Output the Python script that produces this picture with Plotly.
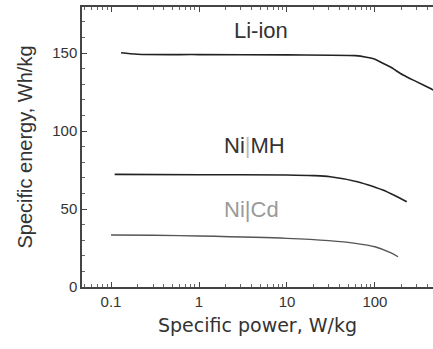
import math
import plotly.graph_objects as go

# Data
liion_x = [0.13, 0.2, 1, 10, 60, 80, 100, 123, 150, 209, 300, 422, 460]
liion_y = [150.2, 149.2, 149.0, 148.8, 148.3, 147.3, 146.0, 143.4, 141.0, 135.9, 131.5, 127.4, 126.3]

nimh_x = [0.11, 1, 10, 20, 31, 63, 100, 123, 170, 230]
nimh_y = [72.2, 72.0, 71.8, 71.4, 70.7, 67.5, 64.0, 62.2, 58.5, 54.7]

nicd_x = [0.1, 0.3, 1, 10, 30, 60, 100, 150, 183]
nicd_y = [33.3, 33.2, 32.7, 31.2, 29.7, 28.0, 25.8, 22.0, 19.4]

y_tickvals = [0, 50, 100, 150]

labels = ["Li-ion", "Ni<span style='color:#bbbbbb'>|</span>MH", "Ni|Cd"]
label_x = [5.07, 4.33, 4.0]
label_y = [164.7, 90.4, 49.4]
label_colors = ["#333333", "#333333", "#9a9a9a"]

fig = go.Figure()
fig.add_trace(go.Scatter(x=liion_x, y=liion_y, mode="lines",
                         line=dict(color="#222222", width=1.6, shape="spline", smoothing=0.8), showlegend=False))
fig.add_trace(go.Scatter(x=nimh_x, y=nimh_y, mode="lines",
                         line=dict(color="#222222", width=1.6, shape="spline", smoothing=0.8), showlegend=False))
fig.add_trace(go.Scatter(x=nicd_x, y=nicd_y, mode="lines",
                         line=dict(color="#555555", width=1.4, shape="spline", smoothing=0.8), showlegend=False))

for t, x, y, c in zip(labels, label_x, label_y, label_colors):
    fig.add_annotation(x=math.log10(x), y=y, xref="x", yref="y", text=t, showarrow=False,
                       font=dict(family="Liberation Sans, Arial, sans-serif", size=22, color=c))

fig.update_layout(
    width=433, height=349,
    margin=dict(l=82, r=0, t=7, b=62),
    plot_bgcolor="white", paper_bgcolor="white",
    font=dict(family="Liberation Sans, Arial, sans-serif", color="#333333"),
)
fig.update_xaxes(
    type="log", range=[-1.33, 2.66],
    tickmode="linear", tick0=0, dtick=1,
    ticks="inside", ticklen=5, tickwidth=1, tickcolor="#444444",
    minor=dict(ticks="inside", ticklen=3, tickwidth=1, tickcolor="#666666"),
    showline=True, linecolor="#444444", linewidth=1.5, mirror="ticks",
    showgrid=False, zeroline=False,
    tickfont=dict(size=15, color="#333333"),
    title=dict(text="Specific power, W/kg", standoff=10,
               font=dict(family="DejaVu Sans, Verdana, sans-serif", size=19, color="#333333")),
)
fig.update_yaxes(
    range=[0, 179.5],
    tickvals=y_tickvals,
    ticks="inside", ticklen=5, tickwidth=1, tickcolor="#444444",
    minor=dict(ticks="inside", ticklen=3, tickwidth=1, dtick=10, tickcolor="#666666"),
    showline=True, linecolor="#444444", linewidth=1.5,
    showgrid=False, zeroline=False,
    tickfont=dict(size=15, color="#333333"),
    title=dict(text="Specific energy, Wh/kg", standoff=14,
               font=dict(family="Liberation Sans, Arial, sans-serif", size=20, color="#333333")),
)

fig.write_html("out.html")
